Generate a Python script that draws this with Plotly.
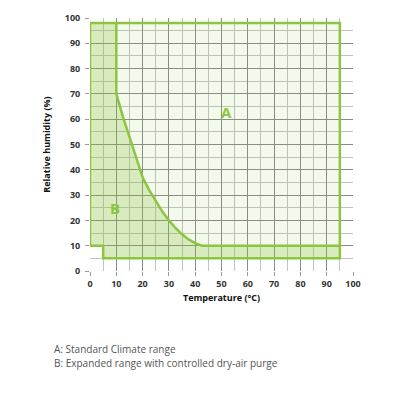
import plotly.graph_objects as go

# Region A (standard climate range) outline
a_temp = [0, 0, 95, 95, 5, 5, 0]
a_rh = [10, 98, 98, 5, 5, 10, 10]

# Region B boundary curve (expanded range with dry-air purge)
b_curve_temp = [10, 10, 12.5, 15, 17.5, 20, 22.5, 25, 27.5, 30, 32.5, 35, 37.5, 40, 42.5, 95]
b_curve_rh = [98, 70, 61, 53, 45, 37, 32, 27.5, 23.5, 20, 17, 14.5, 12.5, 11, 10, 10]

b_fill_temp = [0, 0] + b_curve_temp + [95, 5, 5, 0]
b_fill_rh = [10, 98] + b_curve_rh + [5, 5, 10, 10]

GREEN = "#8cc63f"

fig = go.Figure()
fig.add_trace(go.Scatter(x=a_temp, y=a_rh, fill="toself", mode="none",
                         fillcolor="rgba(140,198,63,0.10)", hoverinfo="skip"))
fig.add_trace(go.Scatter(x=b_fill_temp, y=b_fill_rh, fill="toself", mode="none",
                         fillcolor="rgba(140,198,63,0.26)", hoverinfo="skip"))
fig.add_trace(go.Scatter(x=a_temp, y=a_rh, mode="lines",
                         line=dict(color=GREEN, width=2.5)))
fig.add_trace(go.Scatter(x=b_curve_temp, y=b_curve_rh, mode="lines",
                         line=dict(color=GREEN, width=2.5)))

fig.add_annotation(x=52, y=63, text="A", showarrow=False,
                   font=dict(color=GREEN, size=15, family="Open Sans", weight="bold"))
fig.add_annotation(x=9.5, y=25, text="B", showarrow=False,
                   font=dict(color=GREEN, size=15, family="Open Sans", weight="bold"))

fig.add_annotation(xref="paper", yref="paper", x=-0.145, y=-0.345, xanchor="left",
                   text="A: Standard Climate range", showarrow=False,
                   font=dict(color="#555", size=10, family="Open Sans"))
fig.add_annotation(xref="paper", yref="paper", x=-0.145, y=-0.40, xanchor="left",
                   text="B: Expanded range with controlled dry-air purge", showarrow=False,
                   font=dict(color="#555", size=10, family="Open Sans"))

axis_common = dict(range=[0, 100], dtick=10, tick0=0, showgrid=True,
                   gridcolor="#8a8a8a", gridwidth=1, zeroline=False,
                   minor=dict(dtick=5, showgrid=True, gridcolor="#c2c2c2", gridwidth=1),
                   ticks="outside", ticklen=4, tickcolor="#999",
                   tickfont=dict(size=9, family="Open Sans", color="#333", weight="bold"),
                   showline=False, fixedrange=True)

fig.update_xaxes(**axis_common,
                 title=dict(text="Temperature (°C)", standoff=5,
                            font=dict(size=9, family="Open Sans", color="#111", weight="bold")))
fig.update_yaxes(**axis_common, ticklabelstandoff=3,
                 title=dict(text="Relative humidity (%)", standoff=12,
                            font=dict(size=9, family="Open Sans", color="#111", weight="bold")))

fig.update_layout(width=400, height=400, showlegend=False,
                  margin=dict(l=90, r=47, t=11, b=129),
                  plot_bgcolor="white", paper_bgcolor="white")

fig.write_html("out.html")
